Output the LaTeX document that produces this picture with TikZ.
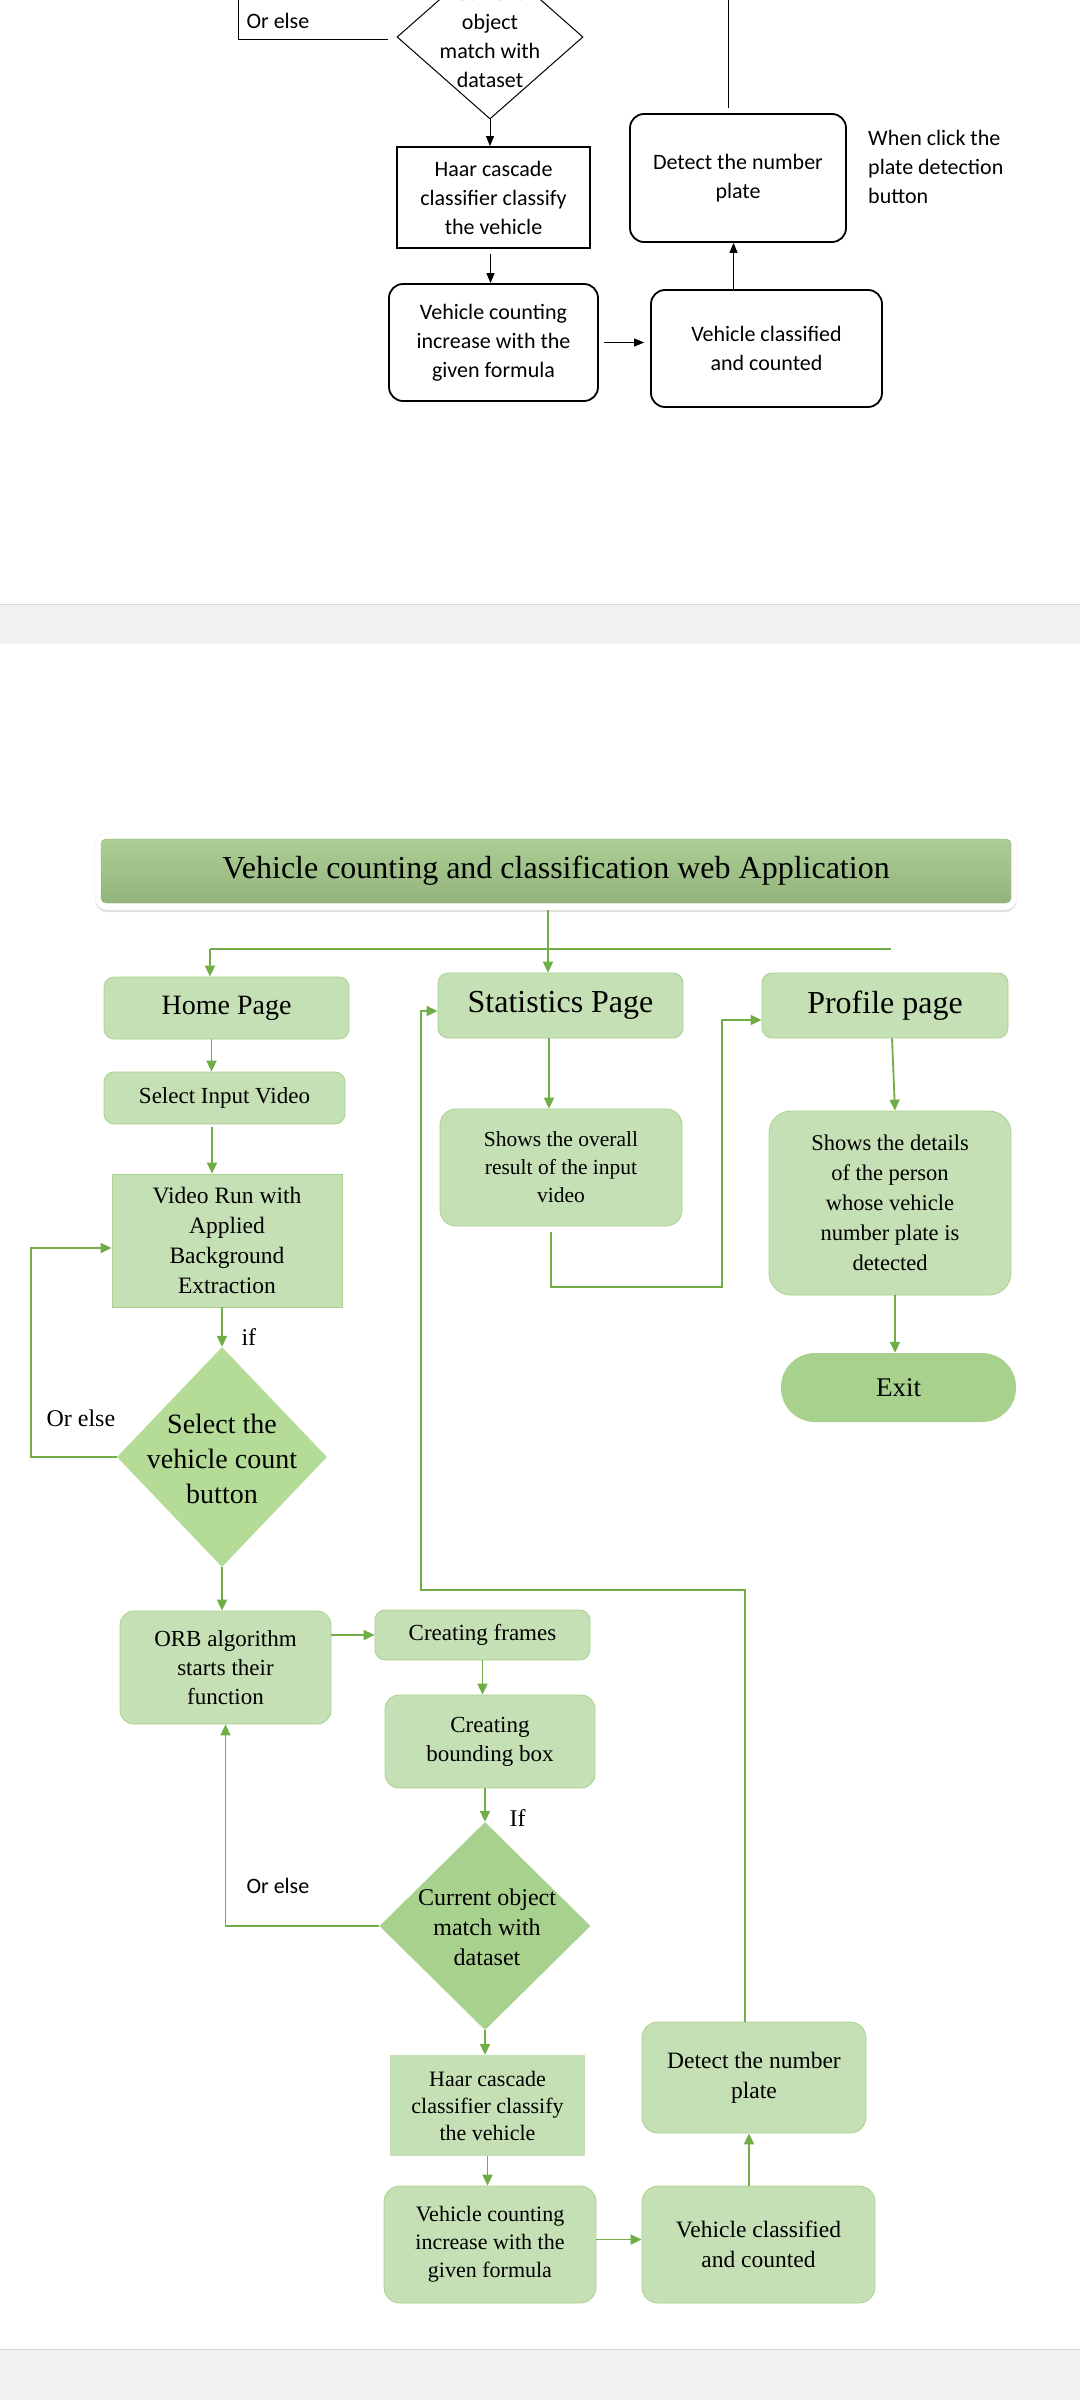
\documentclass[tikz,border=0pt]{standalone}
\usepackage{fontspec}
\setmainfont{Liberation Serif}
\newfontfamily\calibri{Carlito}
\usetikzlibrary{arrows.meta,shapes.geometric,shadows}

\definecolor{boxgreen}{HTML}{C5E0B4}
\definecolor{edgegreen}{HTML}{A9D18E}
\definecolor{darkgreen}{HTML}{A9D18E}
\definecolor{diagreen}{HTML}{B5DC97}
\definecolor{linegreen}{HTML}{70AD47}
\definecolor{bandgray}{HTML}{F0F1F3}
\definecolor{titlegreen}{HTML}{A3C98A}

\newcommand{\fsz}[2]{\fontsize{#1}{#2}\selectfont}

\begin{document}
\begin{tikzpicture}[x=1pt,y=-1pt,
    oldbox/.style={draw=black,line width=1.8pt,align=center,inner sep=0pt,font=\calibri\fsz{22}{29}},
    oldround/.style={oldbox,rounded corners=14},
    oldarrow/.style={-{Triangle[length=10pt,width=8pt]},line width=1pt},
    greenbox/.style={fill=boxgreen,draw=edgegreen,line width=0.8pt,rounded corners=10,align=center,inner sep=0pt},
    flatbox/.style={fill=boxgreen,align=center,inner sep=0pt},
    flow/.style={draw=linegreen,line width=1.8pt,-{Triangle[length=11pt,width=10pt]}},
    wire/.style={draw=linegreen,line width=1.8pt}
]
\useasboundingbox (0,0) rectangle (1080,2400);
\clip (0,0) rectangle (1080,2400);

% Page bands
\fill[bandgray] (0,604) rectangle (1080,644);
\draw[black!15,line width=1.5pt] (0,604.5) -- (1080,604.5);
\fill[bandgray] (0,2349) rectangle (1080,2400);
\draw[black!15,line width=1.5pt] (0,2349.5) -- (1080,2349.5);

% Upper (old) chart, cut off at the top
\node[diamond,draw,line width=1pt,minimum width=186,minimum height=164,inner sep=0pt] (dia0) at (490,37) {};
\node[font=\calibri\fsz{22}{29},align=center] (dia0txt) at (490,37) {Current\\object\\match with\\dataset};
\coordinate (elsetop) at (238,0);
\draw[line width=1pt] ([shift={(-9,3)}]dia0.west) -| (elsetop);
\node[anchor=west,font=\calibri\fsz{22}{29}] (else0) at (243,21) {Or else};

\node[oldbox,minimum width=193,minimum height=101] (haar0) at (493.5,197.5) {Haar cascade\\classifier classify\\the vehicle};
\node[oldround,minimum width=209,minimum height=117] (cnt0) at (493.5,342.5) {Vehicle counting\\increase with the\\given formula};
\node[oldround,minimum width=231,minimum height=117] (cls0) at (766.5,348.5) {Vehicle classified\\and counted};
\node[oldround,minimum width=216,minimum height=128] (det0) at (738,178) {Detect the number\\plate};
\node[anchor=north west,align=left,inner sep=0pt,font=\calibri\fsz{22}{29}] (when0) at (868,130) {When click the\\plate detection\\button};

\draw[oldarrow] (dia0.south) -- (dia0.south |- haar0.north);
\draw[oldarrow] ([shift={(-3,5)}]haar0.south) -- ([xshift=-3]haar0.south |- cnt0.north);
\draw[oldarrow] ([xshift=5]cnt0.east) -- ([xshift=-6]cnt0.east -| cls0.west);
\draw[oldarrow] ([xshift=-33]cls0.north) -- ([xshift=-33]cls0.north |- det0.south);
\coordinate (plate0) at (728,0);
\draw[line width=1pt] ([yshift=5]plate0 |- det0.north) -- (plate0);

% Web application chart
\node[fill=white,draw=black!8,rounded corners=12,minimum width=922,minimum height=77,
      drop shadow={shadow xshift=0pt,shadow yshift=-2pt,opacity=0.25}] (titleframe) at (556,871.5) {};
\node[top color=titlegreen!90!white,middle color=titlegreen,bottom color=titlegreen!90!black,
      draw=titlegreen!85!black,rounded corners=5,minimum width=910,minimum height=64,
      font=\fsz{32}{38}] (title) at (556,871) {Vehicle counting and classification web Application};

\node[greenbox,minimum width=245,minimum height=62,font=\fsz{28}{34}] (home) at (226.5,1008) {Home Page};
\node[greenbox,minimum width=245,minimum height=65,font=\fsz{32}{38}] (stats) at (560.5,1005.5) {Statistics Page};
\node[greenbox,minimum width=246,minimum height=65,font=\fsz{32}{38}] (profile) at (885,1005.5) {Profile page};

\coordinate (busL) at (210,949);
\coordinate (busM) at (548,949);
\coordinate (busR) at (891,949);
\draw[wire] (busR) -- (busL);
\draw[flow] (busL) -- (busL |- home.north);
\draw[flow] (busM |- titleframe.south) -- (busM |- stats.north);

\node[greenbox,minimum width=241,minimum height=52,font=\fsz{23}{28}] (select) at (224.5,1098) {Select Input Video};
\node[flatbox,draw=edgegreen,line width=0.8pt,minimum width=230,minimum height=133,font=\fsz{23.5}{30}] (video) at (227,1240.5) {Video Run with\\Applied\\Background\\Extraction};
\node[diamond,fill=diagreen,minimum width=210,minimum height=220,inner sep=0pt] (dia1) at (222,1457) {};
\node[font=\fsz{28}{35},align=center] (dia1txt) at (222,1459) {Select the\\vehicle count\\button};

\draw[flow] ([xshift=-15]home.south) -- ([xshift=-15]home.south |- select.north);
\draw[flow] ([shift={(-12.5,3)}]select.south) -- ([xshift=-12.5]select.south |- video.north);
\draw[flow] (video.south -| dia1.north) -- (dia1.north);
\node[anchor=west,font=\fsz{24}{29}] (if1) at (238,1337) {if};
\coordinate (loopL) at (31,1248);
\draw[flow] (dia1.west) -| (loopL) -- (loopL -| video.west);
\node[anchor=west,font=\fsz{24}{29}] (else1) at (43,1418) {Or else};

\node[greenbox,rounded corners=14,minimum width=211,minimum height=113,font=\fsz{23}{29}] (orb) at (225.5,1667.5) {ORB algorithm\\starts their\\function};
\node[greenbox,minimum width=215,minimum height=50,font=\fsz{23}{28}] (frames) at (482.5,1635) {Creating frames};
\node[greenbox,rounded corners=14,minimum width=210,minimum height=93,font=\fsz{23}{29}] (bbox) at (490,1741.5) {Creating\\bounding box};
\node[diamond,fill=darkgreen,minimum width=211,minimum height=208,inner sep=0pt] (dia2) at (485,1926) {};
\node[font=\fsz{24}{30},align=center] (dia2txt) at (487,1927) {Current object\\match with\\dataset};

\draw[flow] (dia1.south) -- (dia1.south |- orb.north);
\draw[flow] (frames.west -| orb.east) -- (frames.west);
\draw[flow] (frames.south) -- (frames.south |- bbox.north);
\draw[flow] (bbox.south -| dia2.north) -- (dia2.north);
\node[anchor=west,font=\fsz{24}{29}] (if2) at (506,1818) {If};
\draw[flow] (dia2.west) -| (orb.south);
\node[anchor=west,font=\calibri\fsz{22}{29}] (else2) at (243,1886) {Or else};

\node[flatbox,minimum width=195,minimum height=101,font=\fsz{22}{27}] (haar) at (487.5,2105.5) {Haar cascade\\classifier classify\\the vehicle};
\node[greenbox,rounded corners=16,minimum width=212,minimum height=117,font=\fsz{22}{28}] (cnt) at (490,2244.5) {Vehicle counting\\increase with the\\given formula};
\node[greenbox,rounded corners=16,minimum width=233,minimum height=117,font=\fsz{23.5}{30}] (cls) at (758.5,2244.5) {Vehicle classified\\and counted};
\node[greenbox,rounded corners=16,minimum width=224,minimum height=111,font=\fsz{23.5}{30}] (det) at (754,2077.5) {Detect the number\\plate};

\draw[flow] (dia2.south) -- (dia2.south |- haar.north);
\draw[flow] (haar.south) -- (haar.south |- cnt.north);
\draw[flow] ([yshift=5]cnt.east) -- ([yshift=5]cnt.east -| cls.west);
\draw[flow] ([xshift=-5]det.south |- cls.north) -- ([xshift=-5]det.south);
\coordinate (loopR) at (421,1590);
\draw[flow] ([xshift=-9]det.north) |- (loopR) |- ([yshift=-5.5]stats.west);

\node[greenbox,rounded corners=16,minimum width=242,minimum height=117,font=\fsz{21.5}{28}] (overall) at (561,1167.5) {Shows the overall\\result of the input\\video};
\node[greenbox,rounded corners=22,minimum width=242,minimum height=184,font=\fsz{22.5}{30}] (details) at (890,1203) {Shows the details\\of the person\\whose vehicle\\number plate is\\detected};
\node[fill=darkgreen,rounded corners=34,minimum width=235,minimum height=69,font=\fsz{27}{32}] (exit) at (898.5,1387.5) {Exit};

\draw[flow] ([xshift=-11.5]stats.south) -- ([xshift=-11.5]stats.south |- overall.north);
\coordinate (midR) at (722,1287);
\draw[flow] ([shift={(-10,6)}]overall.south) |- (midR) |- ([yshift=-14.5]profile.west);
\draw[flow] ([xshift=7]profile.south) -- ([xshift=5]details.north);
\draw[flow] ([xshift=5]details.south) -- ([xshift=5]details.south |- exit.north);

\end{tikzpicture}
\end{document}
